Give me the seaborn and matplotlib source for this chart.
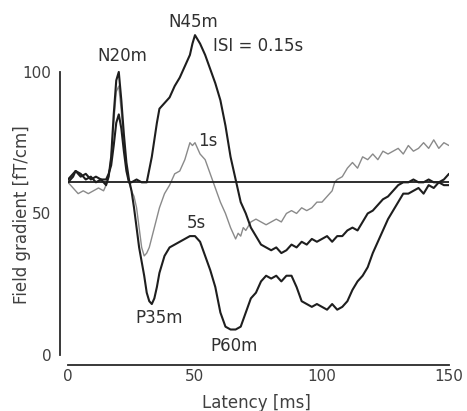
import matplotlib
matplotlib.use("Agg")
import matplotlib.pyplot as plt
import seaborn as sns


# Latency (ms) and field gradient (fT/cm)
lat_015 = [0, 2, 3, 5, 7, 9, 11, 13, 15, 16, 17, 18, 19, 20, 21, 22, 23, 24, 25,
           27, 29, 31, 33, 35, 36, 38, 40, 42, 44, 46, 48, 49, 50, 52, 54, 56,
           58, 60, 62, 64, 66, 68, 70, 72, 74, 76, 78, 80, 82, 84, 86, 88, 90,
           92, 94, 96, 98, 100, 102, 104, 106, 108, 110, 112, 114, 116, 118,
           120, 122, 124, 126, 128, 130, 132, 134, 136, 138, 140, 142, 144,
           146, 148, 150]
isi_015 = [61, 63, 65, 64, 62, 63, 61, 62, 62, 64, 67, 74, 82, 85, 80, 72, 65,
           61, 61, 62, 61, 61, 70, 82, 87, 89, 91, 95, 98, 102, 106, 110, 113,
           110, 106, 101, 96, 90, 81, 70, 62, 54, 50, 45, 42, 39, 38, 37, 38,
           36, 37, 39, 38, 40, 39, 41, 40, 41, 42, 40, 42, 42, 44, 45, 44, 47,
           50, 51, 53, 55, 56, 58, 60, 61, 61, 62, 61, 61, 62, 61, 61, 60, 60]

lat_1 = [0, 2, 4, 6, 8, 10, 12, 14, 15, 16, 17, 18, 19, 20, 21, 22, 23, 24, 25,
         26, 27, 28, 29, 30, 31, 32, 34, 36, 38, 40, 42, 44, 46, 48, 49, 50, 51,
         52, 54, 56, 58, 60, 62, 64, 65, 66, 67, 68, 69, 70, 72, 74, 76, 78, 80,
         82, 84, 86, 88, 90, 92, 94, 96, 98, 100, 102, 104, 105, 106, 108, 110,
         112, 114, 116, 118, 120, 122, 124, 126, 128, 130, 132, 134, 136, 138,
         140, 142, 144, 146, 148, 150]
isi_1 = [61, 59, 57, 58, 57, 58, 59, 58, 60, 63, 70, 82, 93, 95, 86, 75, 66, 61,
         58, 56, 52, 45, 38, 35, 36, 38, 45, 52, 57, 60, 64, 65, 69, 75, 74, 75,
         73, 71, 69, 64, 59, 54, 50, 45, 43, 41, 43, 42, 45, 44, 47, 48, 47, 46,
         47, 48, 47, 50, 51, 50, 52, 51, 52, 54, 54, 56, 58, 61, 62, 63, 66, 68,
         66, 70, 69, 71, 69, 72, 71, 72, 73, 71, 74, 72, 73, 75, 73, 76, 73, 75,
         74]

lat_5 = [0, 2, 3, 5, 7, 9, 11, 13, 15, 16, 17, 18, 19, 20, 21, 22, 23, 24, 25,
         26, 27, 28, 29, 30, 31, 32, 33, 34, 35, 36, 38, 40, 42, 44, 46, 48, 50,
         52, 54, 56, 58, 60, 62, 64, 66, 68, 70, 72, 74, 76, 78, 80, 82, 84, 86,
         88, 90, 92, 94, 96, 98, 100, 102, 104, 106, 108, 110, 112, 114, 116,
         118, 120, 122, 124, 126, 128, 130, 132, 134, 136, 138, 140, 142, 144,
         146, 148, 150]
isi_5 = [62, 64, 65, 63, 64, 62, 63, 62, 60, 63, 70, 85, 97, 100, 90, 78, 68, 62,
         58, 52, 45, 38, 33, 28, 22, 19, 18, 20, 24, 29, 35, 38, 39, 40, 41, 42,
         42, 40, 35, 30, 24, 15, 10, 9, 9, 10, 15, 20, 22, 26, 28, 27, 28, 26,
         28, 28, 24, 19, 18, 17, 18, 17, 16, 18, 16, 17, 19, 23, 26, 28, 31, 36,
         40, 44, 48, 51, 54, 57, 57, 58, 59, 57, 60, 59, 61, 62, 64]

baseline = 61

sns.set_style("white")
plt.rcParams["font.family"] = ["DejaVu Sans"]

fig = plt.figure(figsize=(4.67, 4.11), dpi=100)
ax = fig.add_axes([0.1456, 0.1363, 0.8158, 0.792])

sns.lineplot(x=lat_1, y=isi_1, ax=ax, color="#8a8a8a", lw=1.0)
sns.lineplot(x=lat_5, y=isi_5, ax=ax, color="#1e1e1e", lw=1.5)
sns.lineplot(x=lat_015, y=isi_015, ax=ax, color="#1e1e1e", lw=1.5)
ax.hlines(baseline, 0, 150, color="#1e1e1e", lw=1.3)

ax.set_xlim(0, 150)
ax.set_ylim(0, 115)

# spines offset from the data like the original
for side in ["top", "right"]:
    ax.spines[side].set_visible(False)
ax.spines["left"].set_position(("outward", 6))
ax.spines["bottom"].set_position(("outward", 7))
ax.spines["left"].set_bounds(0, 100)
ax.spines["bottom"].set_bounds(0, 150)
for side in ["left", "bottom"]:
    ax.spines[side].set_color("#2a2a2a")
    ax.spines[side].set_linewidth(1.3)

ax.set_xticks([0, 50, 100, 150])
ax.set_yticks([0, 50, 100])
ax.tick_params(axis="both", length=3, width=1.2, color="#2a2a2a",
               labelsize=11, labelcolor="#404040", pad=3)
ax.tick_params(axis="x", direction="in")
ax.tick_params(axis="y", direction="out")

ax.set_xlabel("Latency [ms]", fontsize=12, color="#404040")
ax.set_ylabel("Field gradient [fT/cm]", fontsize=12, color="#404040")
ax.xaxis.set_label_coords(0.495, -0.12)
ax.yaxis.set_label_coords(-0.097, 0.43)

# peak labels
txt = dict(fontsize=12, color="#303030", ha="center", va="center", clip_on=False)
ax.text(21.5, 105.5, "N20m", **txt)
ax.text(49.5, 117.5, "N45m", **txt)
ax.text(57, 109, "ISI = 0.15s", fontsize=12, color="#303030", ha="left",
        va="center", clip_on=False)
ax.text(55, 75.5, "1s", **txt)
ax.text(50.5, 46.5, "5s", **txt)
ax.text(36, 13, "P35m", **txt)
ax.text(65.5, 3, "P60m", **txt)

fig.savefig("out.png", dpi=100)
